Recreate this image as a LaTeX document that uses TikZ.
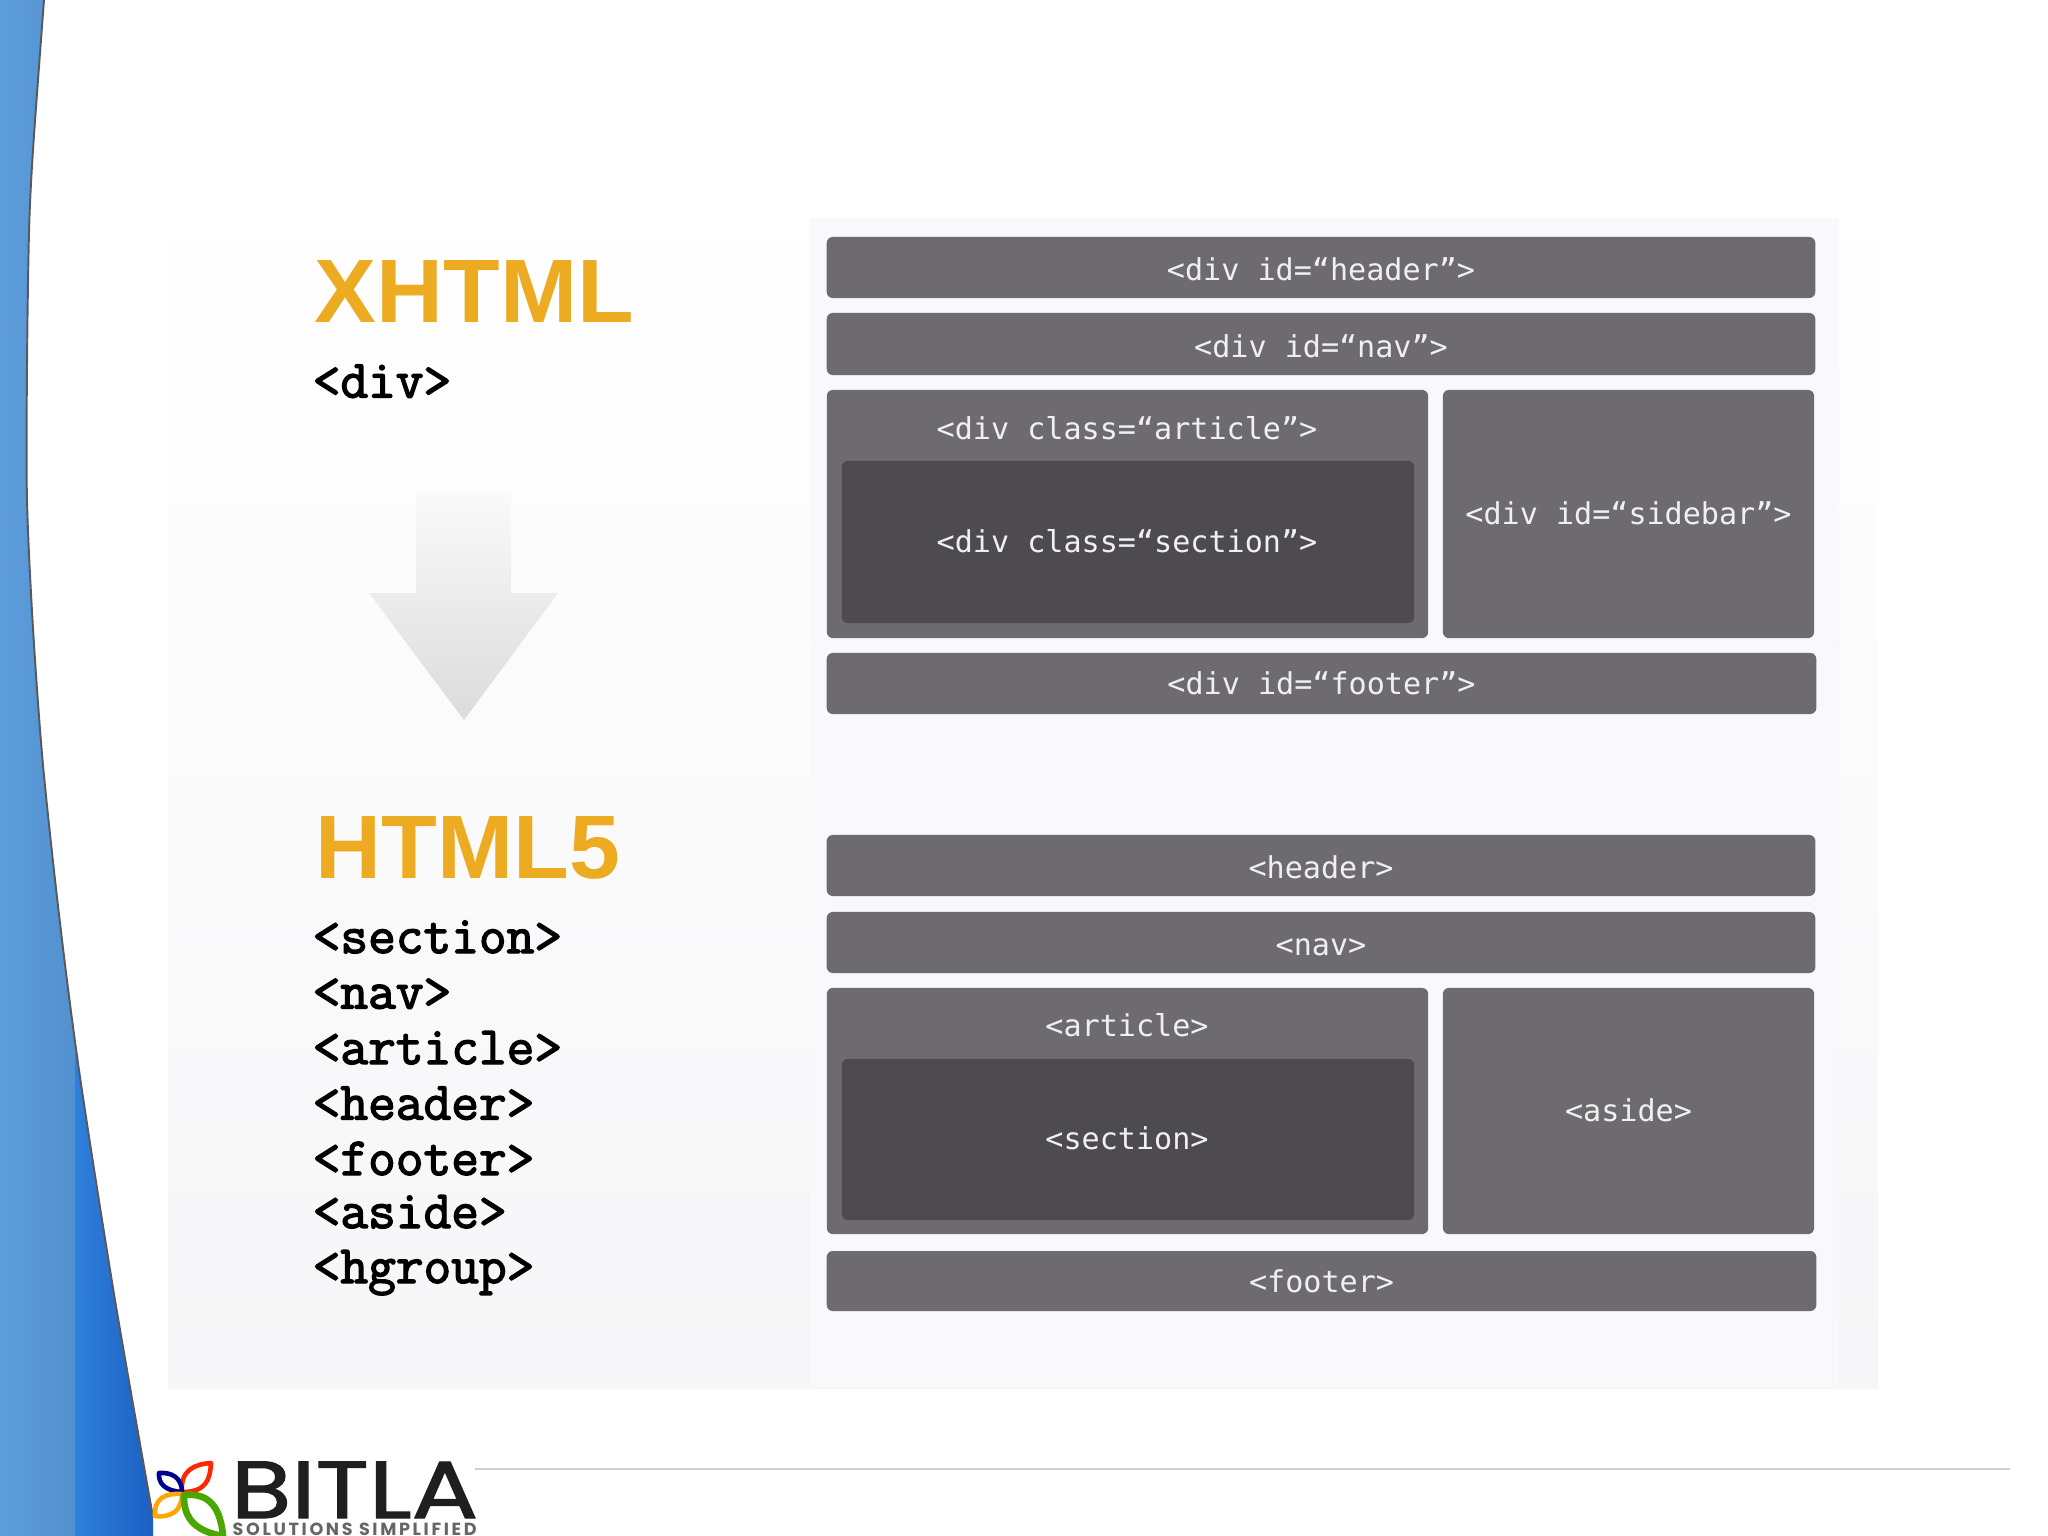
\documentclass[tikz,border=0pt]{standalone}
\usepackage{fontspec}
\setmainfont{Liberation Sans}
\newfontfamily\labelfont{DejaVu Sans Mono}
\newfontfamily\tagfont{Latin Modern Mono}[FakeBold=2.6]
\newfontfamily\logofont{Poppins}[FakeBold=1.4]
\newfontfamily\logosmall[LetterSpace=15]{Poppins}
\usetikzlibrary{arrows.meta}

\definecolor{titlegold}{HTML}{EDAB22}
\definecolor{boxgray}{HTML}{6D6B6F}
\definecolor{innergray}{HTML}{4D4B4F}
\definecolor{panelgray}{HTML}{F9F9FB}
\definecolor{pagegray}{HTML}{F6F6F8}
\definecolor{sidelight}{HTML}{5E9EDC}
\definecolor{sidemid}{HTML}{5290D0}
\definecolor{sideblue}{HTML}{2F80DC}
\definecolor{sidedeep}{HTML}{1B5FC2}

\tikzset{
  divbox/.style={fill=boxgray, rounded corners=1.7pt, inner sep=0pt, outer sep=0pt, text=white!94!black,
    font=\labelfont\fontsize{8.56}{10}\selectfont, text height=7.4pt, text depth=0pt},
  innerbox/.style={divbox, fill=innergray},
  boxlabel/.style={anchor=base, inner sep=0pt, text=white!94!black, font=\labelfont\fontsize{8.56}{10}\selectfont},
  bigtitle/.style={anchor=base west, inner sep=0pt, xscale=1.03, text=titlegold, font=\bfseries\fontsize{25.6}{28}\selectfont},
  tagtext/.style={anchor=base west, inner sep=0pt, text=black, font=\tagfont\fontsize{15.3}{17}\selectfont},
  petal/.style={line width=1.3pt, fill=white, line join=round}
}

\def\sideedge{(44,0) (33,150) (29,233) (27,367) (27,500) (33,628) (43,765) (60,923) (80,1077) (115,1300) (153,1517)}

\begin{document}
\begin{tikzpicture}[x=0.01cm,y=-0.01cm]
\useasboundingbox (0,0) rectangle (2048,1536);
\clip (0,0) rectangle (2048,1536);

% Background panels
\shade[top color=white, bottom color=pagegray] (168,170) rectangle (1878,1388);
\fill[panelgray] (810,218) rectangle (1839,1388);

% Side band
\begin{scope}
  \clip (0,0) -- plot[smooth] coordinates {\sideedge} -- (153,1536) -- (0,1536) -- cycle;
  \shade[left color=sidelight, right color=sidemid] (0,0) rectangle (75,1536);
  \shade[left color=sideblue, right color=sidedeep] (75,0) rectangle (153,1536);
\end{scope}
\draw[black!65, line width=0.55pt] plot[smooth] coordinates {\sideedge};

% Titles
\node[bigtitle] (xhtml) at (314,322) {XHTML};
\node[bigtitle, xscale=0.985] (html) at (315,878) {HTML5};
\node[tagtext] (divtag) at (312,397.5) {<div>};

% Tag list
\foreach \tagname/\tagy in {section/953, nav/1008.5, article/1064, header/1119.5, footer/1175, aside/1228, hgroup/1283}
  \node[tagtext] (tag\tagname) at (312,\tagy) {<\tagname>};

% Arrow
\shade[top color=white!98!black, bottom color=black!14]
  (416,492) -- (511,492) -- (511,593) -- (558,593) -- (464,720) -- (369,593) -- (416,593) -- cycle;

% XHTML layout
\node[divbox, minimum width=9.88cm, minimum height=0.61cm] (xheader) at (1321,267.5) {<div id=“header”>};
\node[divbox, minimum width=9.88cm, minimum height=0.62cm] (xnav) at (1321,344) {<div id=“nav”>};
\node[divbox, minimum width=6.01cm, minimum height=2.48cm] (xarticle) at (1127.5,514) {};
\node[innerbox, minimum width=5.72cm, minimum height=1.62cm] (xsection) at (1128,542) {};
\node[boxlabel] (xarticlelabel) at (1127,439) {<div class=“article”>};
\node[boxlabel] (xsectionlabel) at (1127,552) {<div class=“section”>};
\node[divbox, text height=5.9pt, minimum width=3.71cm, minimum height=2.48cm] (xsidebar) at (1628.5,514) {<div id=“sidebar”>};
\node[divbox, text height=6.3pt, minimum width=9.89cm, minimum height=0.61cm] (xfooter) at (1321.5,683.5) {<div id=“footer”>};

% HTML5 layout
\node[divbox, minimum width=9.88cm, minimum height=0.61cm] (hheader) at (1321,865.5) {<header>};
\node[divbox, minimum width=9.88cm, minimum height=0.61cm] (hnav) at (1321,942.5) {<nav>};
\node[divbox, minimum width=6.01cm, minimum height=2.46cm] (harticle) at (1127.5,1111) {};
\node[innerbox, minimum width=5.72cm, minimum height=1.61cm] (hsection) at (1128,1139.5) {};
\node[boxlabel] (harticlelabel) at (1127,1036) {<article>};
\node[boxlabel] (hsectionlabel) at (1127,1149) {<section>};
\node[divbox, text height=5.9pt, minimum width=3.71cm, minimum height=2.46cm] (haside) at (1628.5,1111) {<aside>};
\node[divbox, text height=6.3pt, minimum width=9.89cm, minimum height=0.60cm] (hfooter) at (1321.5,1281) {<footer>};

% Logo
\draw[black!18, line width=0.55pt] (475,1469) -- (2010,1469);
\draw[petal, draw=red!70!orange] (182,1492) .. controls (180,1470) and (195,1464) .. (211,1463) .. controls (210,1480) and (206,1492) .. cycle;
\draw[petal, draw=blue!55!black] (182,1492) .. controls (182,1478) and (172,1472) .. (159,1473) .. controls (158,1484) and (166,1491) .. cycle;
\draw[petal, draw=orange!70!yellow] (182,1494) .. controls (165,1493) and (154,1498) .. (155,1516) .. controls (172,1518) and (182,1510) .. cycle;
\draw[petal, draw=green!50!black!70!yellow, line width=1.9pt] (184,1495) .. controls (205,1493) and (220,1502) .. (223,1536) .. controls (200,1532) and (183,1522) .. cycle;
\node[anchor=base west, inner sep=0pt, xscale=1.22, font=\logofont\fontsize{23}{25}\selectfont, text=black!88] (bitla) at (230,1518) {BITLA};
\node[anchor=base west, inner sep=0pt, font=\logosmall\bfseries\fontsize{5}{5}\selectfont, text=black!60] (slogan) at (232,1535.5) {SOLUTIONS SIMPLIFIED};

\end{tikzpicture}
\end{document}
